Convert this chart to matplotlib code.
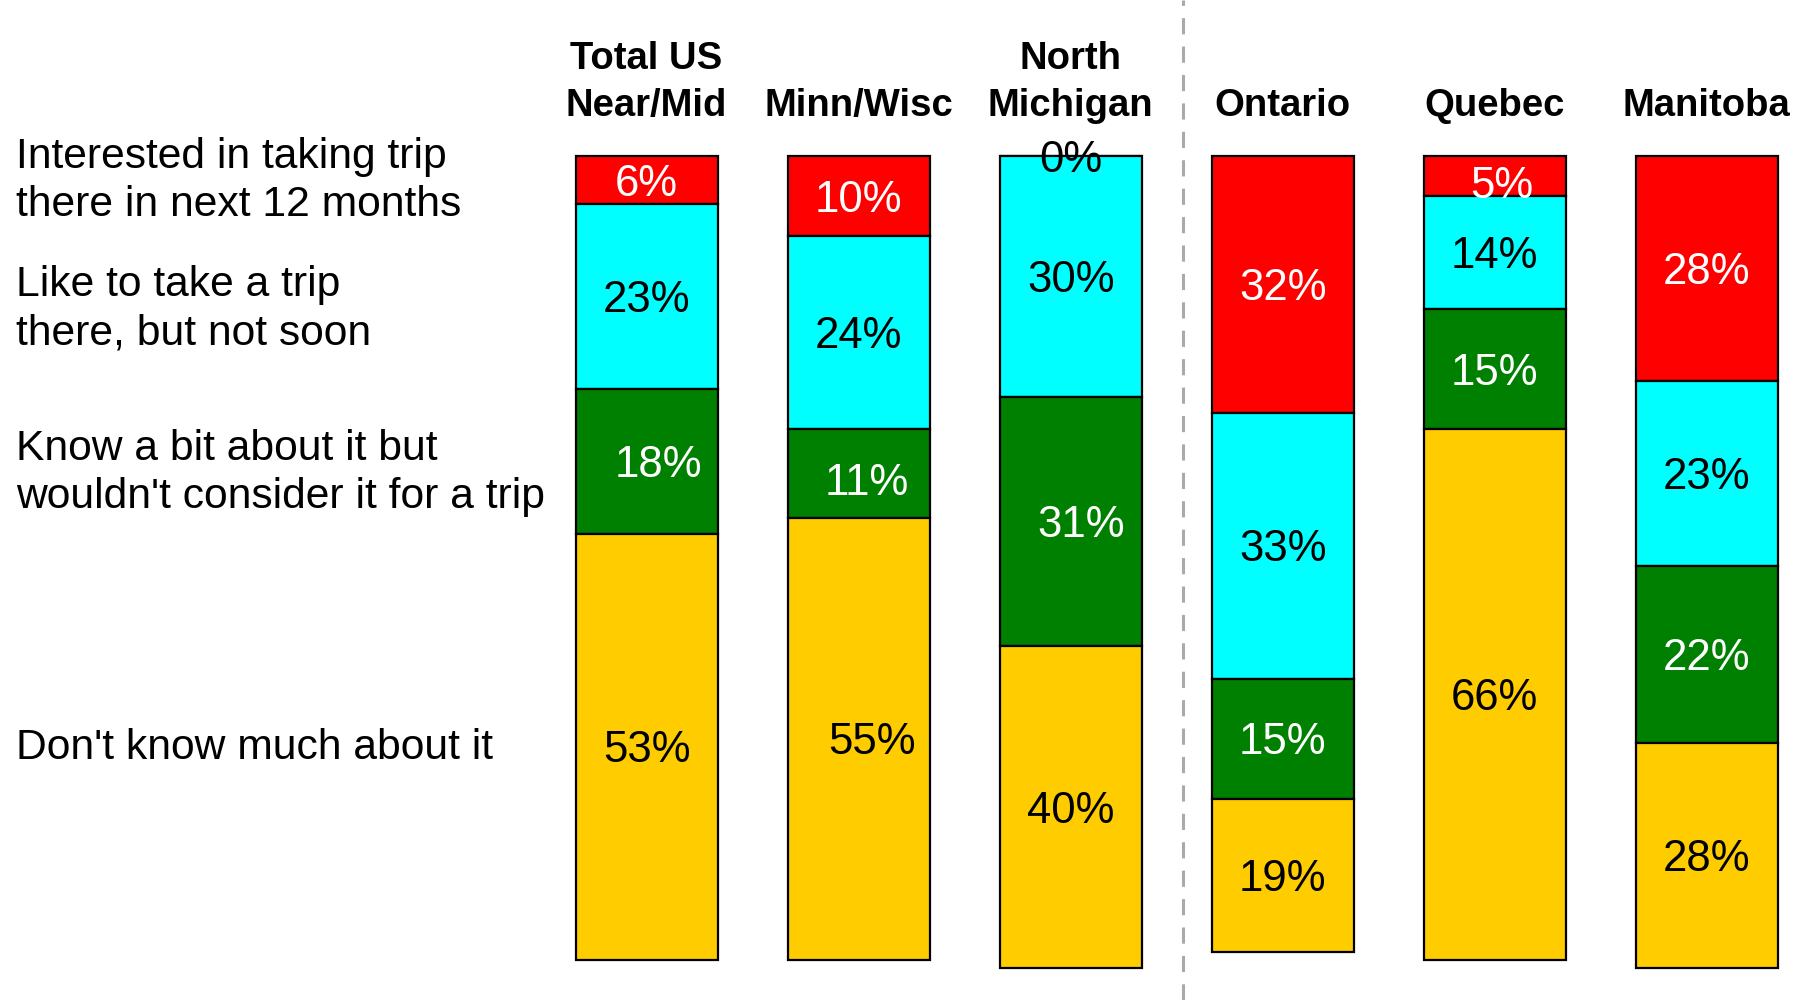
import matplotlib
matplotlib.use("Agg")
import matplotlib.pyplot as plt

plt.rcParams['font.family'] = ['Liberation Sans', 'DejaVu Sans']

# Data (percent of respondents)
regions = ["Total US\nNear/Mid", "Minn/Wisc", "North\nMichigan", "Ontario", "Quebec", "Manitoba"]
categories = [
    "Interested in taking trip\nthere in next 12 months",
    "Like to take a trip\nthere, but not soon",
    "Know a bit about it but\nwouldn't consider it for a trip",
    "Don't know much about it",
]
interested = [6, 10, 0, 32, 5, 28]
like_later = [23, 24, 30, 33, 14, 23]
know_bit = [18, 11, 31, 15, 15, 22]
dont_know = [53, 55, 40, 19, 66, 28]

series = [interested, like_later, know_bit, dont_know]
colors = ["#FF0000", "#00FFFF", "#008000", "#FFCC00"]
text_colors = ["white", "black", "white", "black"]

# small label nudges (pixels, +y = down) where the original labels sit off-centre
nudges = {(0, 2): (12, 0), (1, 2): (8, 6), (1, 3): (13, 0), (2, 2): (10, 0), (4, 0): (7, 6)}

fig = plt.figure(figsize=(18.12, 10), dpi=100)
ax = fig.add_axes([0, 0, 1, 1])

# map data units to the picture: 212 px per bar slot, 8.04 px per percent
ax.set_xlim(-646.6 / 212, (1812 - 646.6) / 212)
ax.set_ylim((1000 - 156) / 8.04, -156 / 8.04)
ax.axis("off")

x = list(range(len(regions)))
bottom = [0] * len(regions)
for si, vals in enumerate(series):
    ax.bar(x, vals, bottom=bottom, width=0.67, color=colors[si],
           edgecolor="black", linewidth=1.6, zorder=2)
    for i, v in enumerate(vals):
        dx, dy = nudges.get((i, si), (0, 0))
        tc = text_colors[si] if v > 0 else "black"
        ax.annotate(f"{v}%", (x[i], bottom[i] + v / 2),
                    xytext=(dx * 0.72, -(dy + 4) * 0.72), textcoords="offset points",
                    ha="center", va="center", fontsize=31.5, color=tc, zorder=3)
    bottom = [b + v for b, v in zip(bottom, vals)]

# column headers
for i, name in enumerate(regions):
    ax.text(x[i], -4.0, name, ha="center", va="bottom", fontsize=27.5,
            fontweight="bold", linespacing=1.4)

# divider between US and Canadian regions
ax.axvline(2.53, color="#AAAAAA", lw=2.2, dashes=(5.3, 4), zorder=1)

# category labels on the left
label_y = [181, 309, 473, 748]
for lab, ypx in zip(categories, label_y):
    fig.text(16 / 1812, 1 - ypx / 1000, lab, ha="left", va="center",
             fontsize=30.7, linespacing=1.29)

fig.savefig("out.png", dpi=100)
